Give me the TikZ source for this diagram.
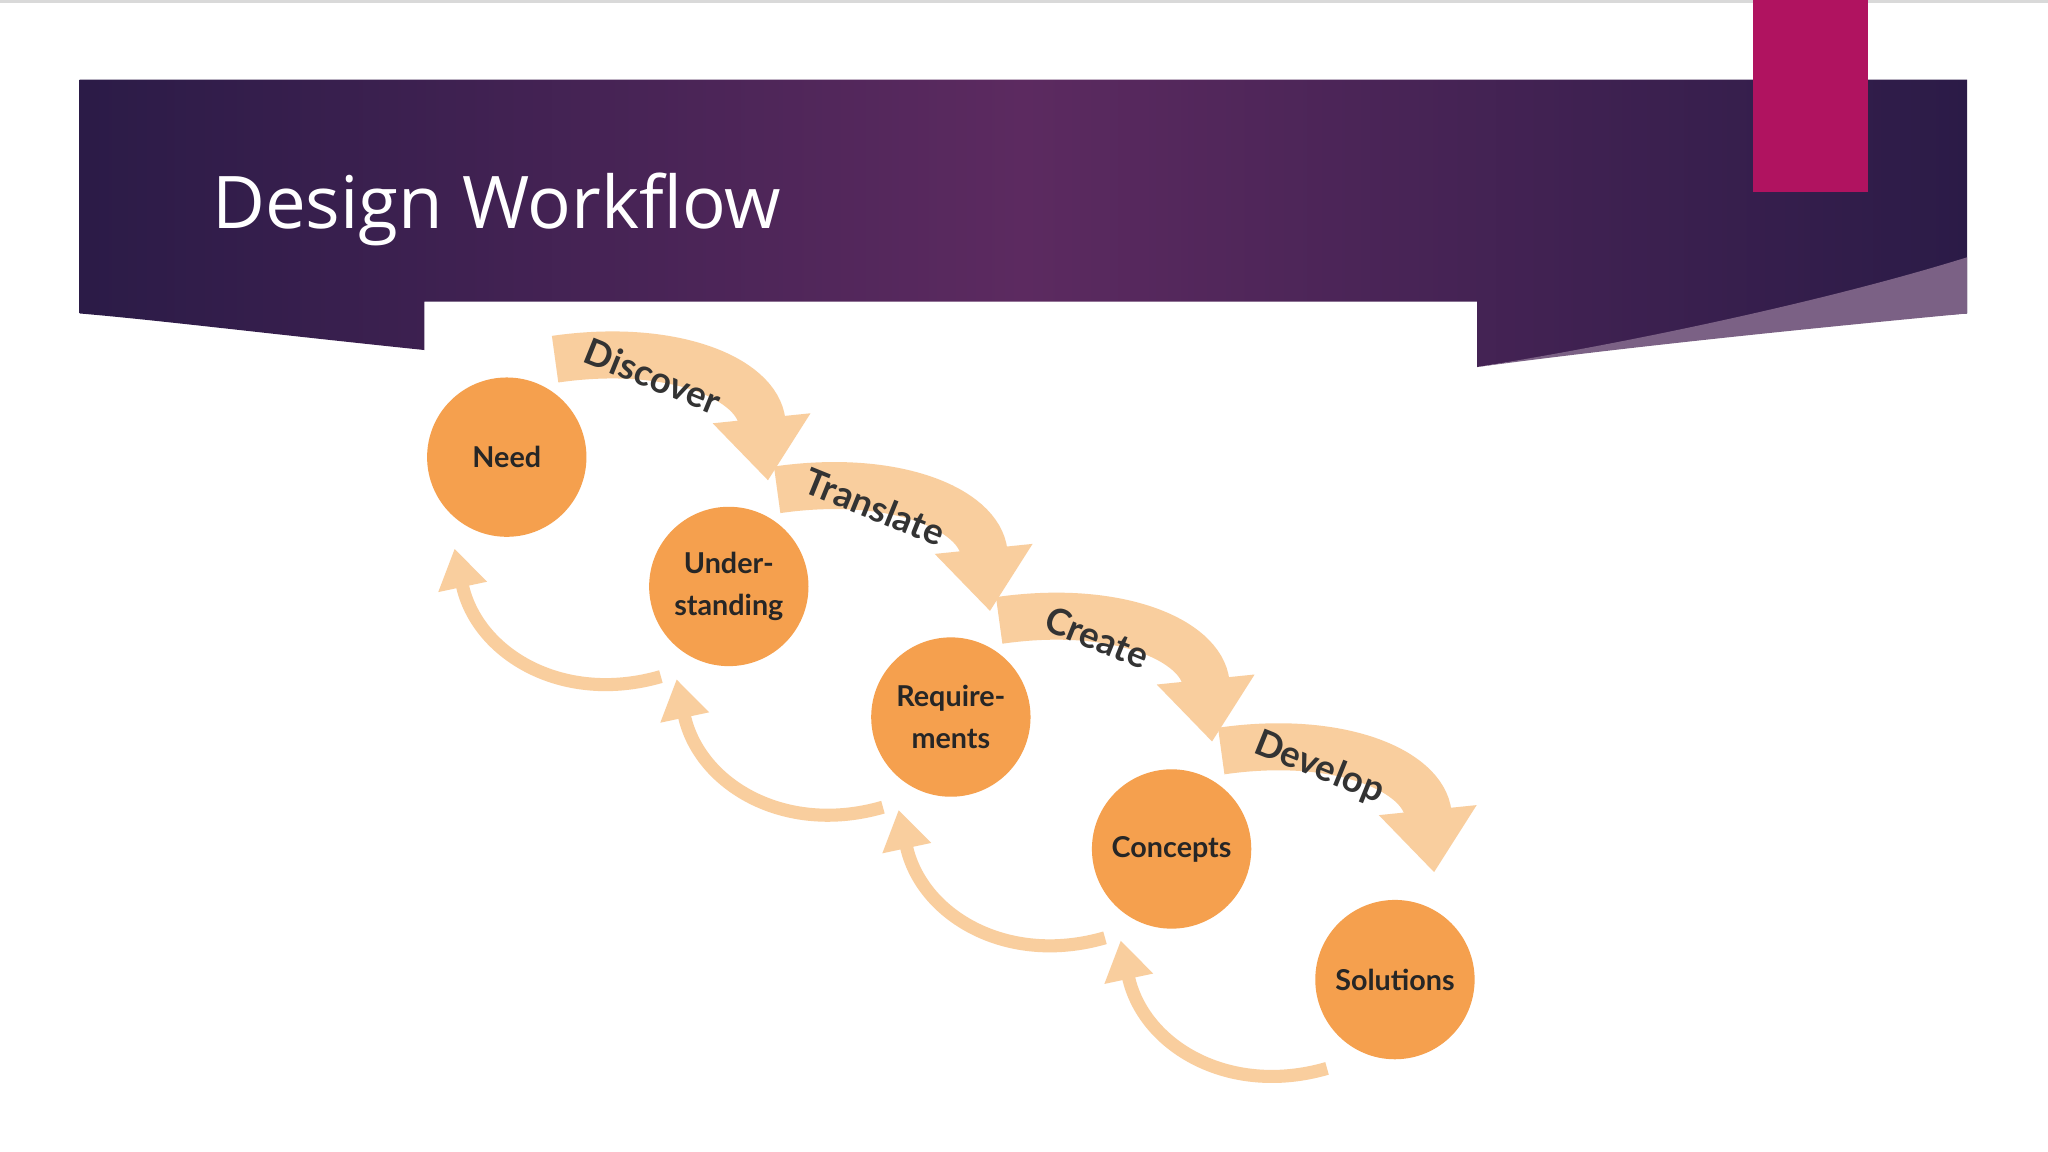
\documentclass[tikz,border=0pt]{standalone}
\usepackage{fontspec}
\setmainfont{Open Sans}
\newfontfamily\lbl{Lato}
\usetikzlibrary{arrows.meta}
\definecolor{orng}{HTML}{F5A04E}
\definecolor{lor}{HTML}{F9CE9E}
\definecolor{mag}{HTML}{B01360}
\definecolor{dpur}{HTML}{2B1B47}
\definecolor{mpur}{HTML}{5C2A60}
\tikzset{
 circ/.style={circle,fill=orng,minimum size=61pt,inner sep=0pt,align=center,font=\lbl\fontsize{11}{16}\selectfont\bfseries,text=black!85},
 topband/.style={draw=lor,line width=18pt,-{Triangle[width=36pt,length=24pt]}},
 botband/.style={draw=lor,line width=5pt,-{Triangle[width=18pt,length=15pt]}},
 toplbl/.style={font=\lbl\fontsize{14}{16}\selectfont\bfseries,text=black!80,rotate=-22}
}
\begin{document}
\begin{tikzpicture}[x=0.5pt,y=-0.5pt]
\useasboundingbox (0,0) rectangle (1568,882);
\fill[white] (0,0) rectangle (1568,882);
\draw[black!15,line width=1pt] (0,1) -- (1568,1);
% banner
\shade[left color=dpur,right color=dpur,middle color=mpur]
 (61,61) -- (1506,61) -- (1506,240) .. controls (1350,250) and (1200,270) .. (1131,281)
 -- (1131,231) -- (325,231) -- (325,268) .. controls (200,255) and (120,245) .. (61,240) -- cycle;
\fill[mpur!60!white!70!dpur] (1131,281) .. controls (1250,265) and (1400,250) .. (1506,240) -- (1506,197) .. controls (1400,230) and (1250,262) .. (1131,281);
\fill[mag] (1342,0) rectangle (1430,147);
\node[anchor=base west,text=white,font=\fontsize{27.8}{32}\selectfont,inner sep=0pt] (title) at (162,175) {Design Workflow};
% circles
\node[circ] (c1) at (388,350) {Need};
\node[circ] (c2) at (558,449) {Under-\\standing};
\node[circ] (c3) at (728,549) {Require-\\ments};
\node[circ] (c4) at (897,650) {Concepts};
\node[circ] (c5) at (1068,750) {Solutions};
% top arrows
\foreach \i/\t in {0/Discover,1/Translate,2/Create,3/Develop}{
 \coordinate (s\i) at ({425+170*\i},{275+100*\i});
 \coordinate (e\i) at ({588+170*\i},{368+100*\i});
 \draw[topband] (s\i) .. controls ({515+170*\i},{262+100*\i}) and ({580+170*\i},{290+100*\i}) .. (e\i);
 \node[toplbl] (l\i) at ({500+170*\i},{288+100*\i}) {\t};
}
% bottom arrows
\foreach \i in {0,1,2,3}{
 \coordinate (bs\i) at ({506+170*\i},{518+100*\i});
 \coordinate (be\i) at ({348+170*\i},{420+100*\i});
 \draw[botband] (bs\i) .. controls ({430+170*\i},{540+100*\i}) and ({365+170*\i},{500+100*\i}) .. (be\i);
}
\end{tikzpicture}
\end{document}
